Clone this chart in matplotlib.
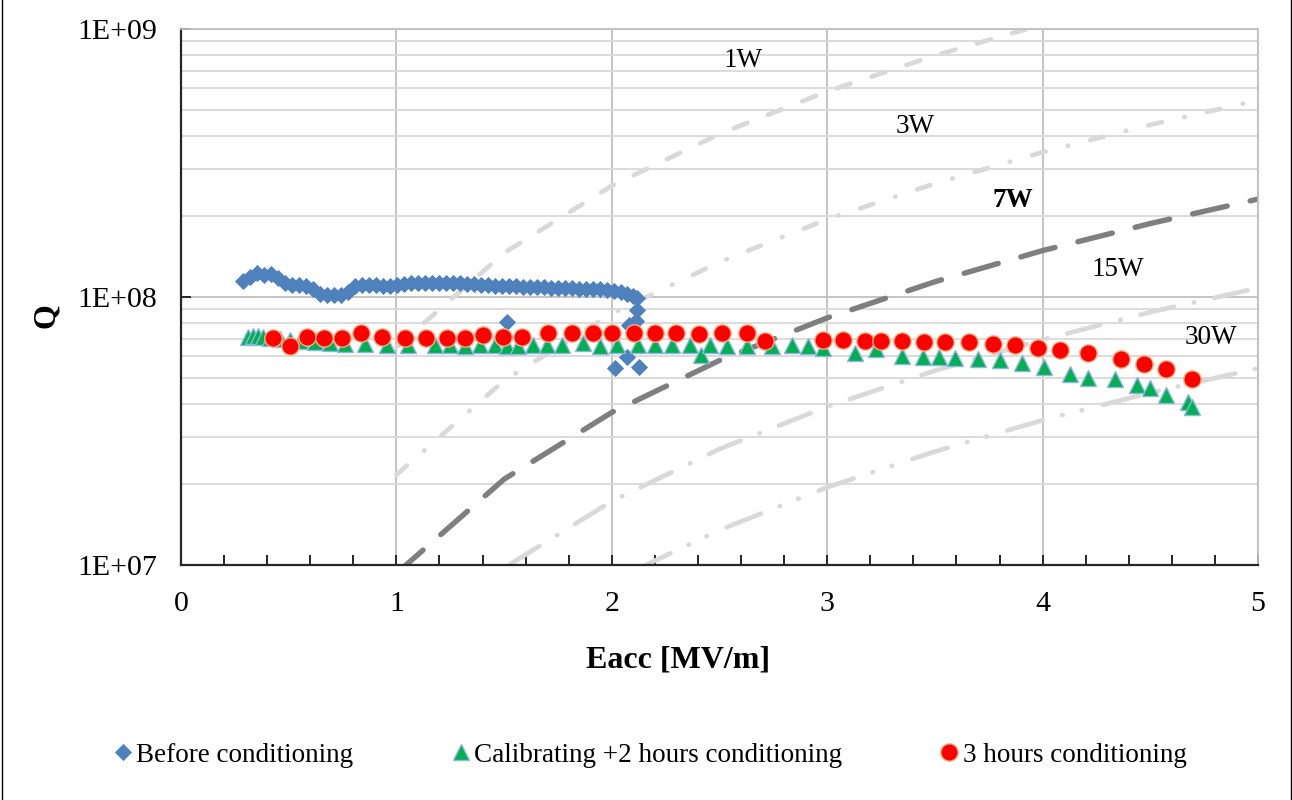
import matplotlib
matplotlib.use("Agg")
import matplotlib.pyplot as plt
from matplotlib.ticker import LogLocator, NullFormatter, MultipleLocator
from matplotlib.lines import Line2D

plt.rcParams['font.family'] = ['Liberation Serif', 'DejaVu Serif']
plt.rcParams['lines.scale_dashes'] = False

# --- measured Q vs Eacc ---------------------------------------------------
before_E = [0.288, 0.320, 0.353, 0.385, 0.418, 0.450, 0.483, 0.515, 0.548, 0.580,
            0.613, 0.645, 0.678, 0.710, 0.743, 0.775, 0.808, 0.840, 0.873, 0.905,
            0.938, 0.970, 1.003, 1.035, 1.068, 1.100, 1.133, 1.165, 1.198, 1.230,
            1.263, 1.295, 1.328, 1.360, 1.393, 1.425, 1.458, 1.490, 1.523, 1.555,
            1.588, 1.620, 1.653, 1.685, 1.718, 1.750, 1.783, 1.815, 1.848, 1.880,
            1.913, 1.945, 1.978, 2.010, 2.043, 2.071, 2.099, 2.117,
            2.117, 2.112, 2.080, 2.071, 2.015, 2.126, 1.515]
before_Q = [1.147e8, 1.188e8, 1.229e8, 1.208e8, 1.218e8, 1.177e8, 1.128e8, 1.109e8, 1.109e8, 1.099e8,
            1.071e8, 1.026e8, 1.017e8, 1.017e8, 1.017e8, 1.044e8, 1.099e8, 1.109e8, 1.109e8, 1.109e8,
            1.099e8, 1.099e8, 1.109e8, 1.118e8, 1.128e8, 1.128e8, 1.128e8, 1.128e8, 1.128e8, 1.128e8,
            1.128e8, 1.128e8, 1.118e8, 1.118e8, 1.109e8, 1.109e8, 1.099e8, 1.099e8, 1.099e8, 1.099e8,
            1.090e8, 1.090e8, 1.090e8, 1.090e8, 1.080e8, 1.080e8, 1.080e8, 1.080e8, 1.071e8, 1.071e8,
            1.071e8, 1.071e8, 1.062e8, 1.053e8, 1.044e8, 1.026e8, 1.009e8, 0.991e8,
            8.94e7, 8.14e7, 7.86e7, 5.97e7, 5.43e7, 5.48e7, 8.07e7]

calib_E = [0.311, 0.334, 0.357, 0.381, 0.413, 0.460, 0.506, 0.552, 0.622, 0.692,
           0.761, 0.854, 0.955, 1.054, 1.179, 1.249, 1.318, 1.388, 1.458, 1.513,
           1.565, 1.634, 1.699, 1.769, 1.866, 1.945, 2.024, 2.122, 2.201, 2.280,
           2.363, 2.416, 2.456, 2.533, 2.628, 2.744, 2.835, 2.911, 2.981, 3.130,
           3.227, 3.345, 3.447, 3.519, 3.593, 3.701, 3.800, 3.906, 4.007, 4.125,
           4.213, 4.336, 4.438, 4.499, 4.573, 4.673, 4.693]
calib_Q = [7.09e7, 7.15e7, 7.15e7, 7.09e7, 7.03e7, 6.97e7, 6.91e7, 6.85e7, 6.80e7, 6.74e7,
           6.68e7, 6.68e7, 6.62e7, 6.62e7, 6.62e7, 6.62e7, 6.56e7, 6.62e7, 6.62e7, 6.54e7,
           6.54e7, 6.62e7, 6.62e7, 6.62e7, 6.74e7, 6.54e7, 6.62e7, 6.62e7, 6.62e7, 6.62e7,
           6.62e7, 6.07e7, 6.62e7, 6.56e7, 6.56e7, 6.56e7, 6.62e7, 6.54e7, 6.45e7, 6.18e7,
           6.42e7, 6.00e7, 5.99e7, 5.97e7, 5.91e7, 5.85e7, 5.82e7, 5.67e7, 5.50e7, 5.16e7,
           4.97e7, 4.95e7, 4.69e7, 4.58e7, 4.31e7, 4.04e7, 3.90e7]

cond3h_E = [0.429, 0.506, 0.584, 0.664, 0.749, 0.836, 0.932, 1.040, 1.136, 1.233,
            1.318, 1.403, 1.496, 1.582, 1.705, 1.814, 1.914, 2.000, 2.102, 2.201,
            2.299, 2.405, 2.513, 2.626, 2.710, 2.982, 3.075, 3.176, 3.252, 3.347,
            3.449, 3.549, 3.659, 3.768, 3.872, 3.977, 4.082, 4.213, 4.364, 4.473,
            4.572, 4.692]
cond3h_Q = [7.01e7, 6.59e7, 7.07e7, 7.01e7, 7.01e7, 7.34e7, 7.07e7, 7.06e7, 7.03e7, 7.03e7,
            7.03e7, 7.22e7, 7.12e7, 7.12e7, 7.34e7, 7.34e7, 7.31e7, 7.31e7, 7.34e7, 7.34e7,
            7.34e7, 7.25e7, 7.31e7, 7.34e7, 6.88e7, 6.91e7, 6.89e7, 6.88e7, 6.88e7, 6.84e7,
            6.81e7, 6.77e7, 6.77e7, 6.67e7, 6.60e7, 6.45e7, 6.36e7, 6.17e7, 5.87e7, 5.60e7,
            5.38e7, 4.94e7]

# --- constant dissipated power curves -------------------------------------
power_E = [1.0, 1.5, 2.0, 2.5, 3.0, 3.5, 4.0, 4.5, 5.0]
q_1w = [6.50e7, 1.46e8, 2.60e8, 4.06e8, 5.85e8, 7.96e8, 1.04e9, 1.32e9, 1.63e9]
q_3w = [2.17e7, 4.88e7, 8.67e7, 1.35e8, 1.95e8, 2.65e8, 3.47e8, 4.39e8, 5.42e8]
q_7w = [9.30e6, 2.09e7, 3.71e7, 5.80e7, 8.36e7, 1.14e8, 1.49e8, 1.88e8, 2.32e8]
q_15w = [4.30e6, 9.75e6, 1.73e7, 2.71e7, 3.90e7, 5.31e7, 6.93e7, 8.78e7, 1.08e8]
q_30w = [2.20e6, 4.90e6, 8.70e6, 1.35e7, 1.95e7, 2.65e7, 3.47e7, 4.39e7, 5.42e7]

power_labels = ['1W', '3W', '7W', '15W', '30W']
power_label_E = [2.61, 3.41, 3.86, 4.35, 4.78]
power_label_Q = [7.66e8, 4.31e8, 2.30e8, 1.27e8, 7.09e7]

series_names = ['Before conditioning', 'Calibrating +2 hours conditioning', '3 hours conditioning']
ytick_vals = [1e7, 1e8, 1e9]
ytick_labels = ['1E+07', '1E+08', '1E+09']
xtick_vals = [0, 1, 2, 3, 4, 5]

W, H = 1292, 800
fig = plt.figure(figsize=(W / 100, H / 100), dpi=100)
ax = fig.add_axes([181 / W, 1 - 565 / H, (1258 - 181) / W, (565 - 29) / H])

light = '#D9D9D9'
ax.plot(power_E, q_1w, color=light, lw=3.4, dash_capstyle='round',
        linestyle=(0, (10.5, 16.0)), zorder=2)
ax.plot(power_E, q_3w, color=light, lw=3.4, dash_capstyle='round',
        linestyle=(0, (10.0, 16.4, 0.4, 16.4)), zorder=2)
ax.plot(power_E, q_7w, color='#7F7F7F', lw=3.9, dash_capstyle='round',
        linestyle=(0, (25.5, 17.0)), zorder=2)
ax.plot(power_E, q_15w, color=light, lw=3.4, dash_capstyle='round',
        linestyle=(0, (24.5, 14.8, 0.4, 14.8)), zorder=2)
ax.plot(power_E, q_30w, color=light, lw=3.4, dash_capstyle='round',
        linestyle=(0, (26.6, 14.4, 0.4, 14.0, 0.4, 15.5)), zorder=2)

blue_kw = dict(linestyle='none', marker='D', markersize=8.3, color='#4F81BD',
               markeredgecolor='#4F81BD', markeredgewidth=0.6)
green_kw = dict(linestyle='none', marker='^', markersize=12.0, color='#00B050',
                markeredgecolor='#8EB4E3', markeredgewidth=1.0)
red_kw = dict(linestyle='none', marker='o', markersize=12.5, color='#FF0000',
              markeredgecolor='#F4B183', markeredgewidth=1.0)

ax.plot(before_E, before_Q, zorder=3, **blue_kw)
ax.plot(calib_E, calib_Q, zorder=4, **green_kw)
ax.plot(cond3h_E, cond3h_Q, zorder=5, **red_kw)

for lab, ex, qy in zip(power_labels, power_label_E, power_label_Q):
    ax.text(ex, qy, lab, ha='center', va='center', fontsize=19.5,
            fontweight='bold' if lab == '7W' else 'normal', zorder=6)

ax.set_xlim(0, 5)
ax.set_yscale('log')
ax.set_ylim(1e7, 1e9)
ax.set_xticks(xtick_vals)
ax.set_xticklabels([str(v) for v in xtick_vals])
ax.xaxis.set_minor_locator(MultipleLocator(0.2))
ax.set_yticks(ytick_vals)
ax.set_yticklabels(ytick_labels)
ax.yaxis.set_minor_locator(LogLocator(base=10, subs=range(2, 10)))
ax.yaxis.set_minor_formatter(NullFormatter())

ax.xaxis.grid(True, which='major', color='#BFBFBF', lw=1.3, zorder=0)
ax.yaxis.grid(True, which='major', color='#BFBFBF', lw=1.3, zorder=0)
ax.yaxis.grid(True, which='minor', color='#D9D9D9', lw=1.3, zorder=0)
ax.set_axisbelow(True)

for side in ('left', 'bottom'):
    ax.spines[side].set_color('#262626')
    ax.spines[side].set_linewidth(1.6)
for side in ('top', 'right'):
    ax.spines[side].set_color('#BFBFBF')
    ax.spines[side].set_linewidth(1.3)

ax.tick_params(axis='both', which='both', direction='in', color='#262626',
               width=1.4, length=7)
ax.tick_params(axis='y', which='minor', length=0)
ax.tick_params(axis='y', which='major', labelsize=21.5, pad=17)
ax.tick_params(axis='x', which='major', labelsize=21.5, pad=19)

fig.text(678 / W, 1 - 660 / H, 'Eacc [MV/m]', fontsize=23, fontweight='bold',
         ha='center', va='center')
fig.text(46 / W, 1 - 316 / H, 'Q', fontsize=23, fontweight='bold',
         ha='center', va='center', rotation=90)

handles = [Line2D([], [], **blue_kw), Line2D([], [], **green_kw), Line2D([], [], **red_kw)]
fig.legend(handles, series_names, loc='center', bbox_to_anchor=(650 / W, 1 - 755 / H),
           ncol=3, frameon=False, fontsize=19.5, handlelength=0.7, handletextpad=0.15,
           columnspacing=3.6, borderpad=0, borderaxespad=0)

# chart-area frame
fig.add_artist(Line2D([1.5 / W, 1.5 / W], [0, 1], color='black', lw=1.0))
fig.add_artist(Line2D([1290.5 / W, 1290.5 / W], [0, 1], color='black', lw=1.0))

fig.savefig('out.png', dpi=100)
